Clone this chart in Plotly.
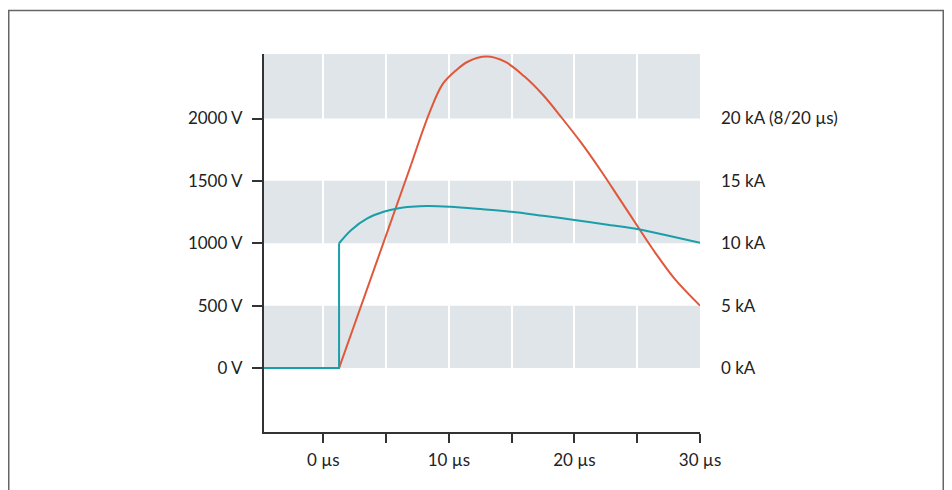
import plotly.graph_objects as go

# ---- data ----
x_ticks = [0, 5, 10, 15, 20, 25, 30]
x_labels = ["0 µs", "", "10 µs", "", "20 µs", "", "30 µs"]
v_ticks = [0, 500, 1000, 1500, 2000]
v_labels = ["0 V", "500 V", "1000 V", "1500 V", "2000 V"]
i_ticks = [0, 5, 10, 15, 20]
i_labels = ["0 kA", "5 kA", "10 kA", "15 kA", "20 kA (8/20 µs)"]

# voltage (V) vs time (µs)
volt_t = [-4.73, 1.25, 7.0, 8.5, 9.5, 10.5, 11.5, 13.0, 14.5, 16.0, 17.5, 19.0,
          20.5, 22.0, 23.5, 25.0, 26.5, 28.0, 30.0]
volt_v = [0, 0, 1633, 2060, 2275, 2380, 2455, 2496, 2453, 2338, 2188, 2004,
          1810, 1597, 1370, 1140, 915, 712, 500]

# current (kA) vs time (µs)
curr_t = [-4.73, 1.25, 1.25, 2.2, 3.5, 4.8, 5.9, 7.0, 8.3, 10.1, 12.7, 15.0,
          17.5, 20.0, 22.5, 25.2, 27.5, 30]
curr_i = [0, 0, 10.0, 11.05, 11.99, 12.52, 12.79, 12.92, 12.98, 12.92, 12.72, 12.52,
          12.2, 11.87, 11.5, 11.11, 10.6, 10.03]

band_lo = [0, 1000, 2000]
band_hi = [500, 1500, 2517]

X_RANGE = [-4.73, 30]
V_RANGE = [-513, 2517]
I_RANGE = [V_RANGE[0] / 100, V_RANGE[1] / 100]

ORANGE = "#E0583B"
TEAL = "#1A9EAA"
BAND = "#DFE5E8"
AXIS = "#333333"
FONT = dict(family="Lato, 'Open Sans', sans-serif", size=17, color="#222222")

# page body has an 8px margin: figure origin sits at (8, 8)
W, H = 944, 482
PL, PR, PT, PB = 256, 692, 46, 424  # plot box in figure pixels

fig = go.Figure()

# orange: straight ramp then smooth curve
fig.add_trace(go.Scatter(x=volt_t[:3], y=volt_v[:3], mode="lines",
                         line=dict(color=ORANGE, width=2), hoverinfo="skip"))
fig.add_trace(go.Scatter(x=volt_t[2:], y=volt_v[2:], mode="lines",
                         line=dict(color=ORANGE, width=2, shape="spline", smoothing=1),
                         hoverinfo="skip"))

# teal: flat, vertical jump, smooth curve
fig.add_trace(go.Scatter(x=curr_t[:3], y=curr_i[:3], mode="lines", yaxis="y2",
                         line=dict(color=TEAL, width=2), hoverinfo="skip"))
fig.add_trace(go.Scatter(x=curr_t[2:], y=curr_i[2:], mode="lines", yaxis="y2",
                         line=dict(color=TEAL, width=2, shape="spline", smoothing=0.9),
                         hoverinfo="skip"))

shapes = []
for lo, hi in zip(band_lo, band_hi):
    shapes.append(dict(type="rect", xref="x", yref="y", x0=X_RANGE[0], x1=X_RANGE[1],
                       y0=lo, y1=hi, fillcolor=BAND, line=dict(width=0), layer="below"))
# outer frame (page px -> figure px -> paper)
pw, ph = PR - PL, PB - PT
shapes.append(dict(type="rect", xref="paper", yref="paper",
                   x0=((8 - 8) + 0.75 - PL) / pw, x1=((944 - 8) - 0.75 - PL) / pw,
                   y0=(PB - (530 - 8)) / ph, y1=(PB - (10.5 - 8)) / ph,
                   line=dict(color="#666666", width=1.5), fillcolor="rgba(0,0,0,0)"))

fig.update_layout(
    width=W, height=H,
    margin=dict(l=PL, r=W - PR, t=PT, b=H - PB, pad=0),
    paper_bgcolor="white", plot_bgcolor="white",
    showlegend=False,
    font=FONT,
    shapes=shapes,
    xaxis=dict(range=X_RANGE, tickvals=x_ticks, ticktext=x_labels,
               showgrid=True, gridcolor="white", gridwidth=2,
               showline=True, linecolor=AXIS, linewidth=2,
               ticks="outside", ticklen=9, tickwidth=2, tickcolor=AXIS,
               ticklabelstandoff=3, zeroline=False, fixedrange=True),
    yaxis=dict(range=V_RANGE, tickvals=v_ticks, ticktext=v_labels,
               showgrid=False, zeroline=False,
               showline=True, linecolor=AXIS, linewidth=2,
               ticks="outside", ticklen=10, tickwidth=2, tickcolor=AXIS,
               ticklabelstandoff=6, fixedrange=True),
    yaxis2=dict(range=I_RANGE, tickvals=i_ticks, ticktext=i_labels,
                overlaying="y", side="right", showgrid=False, zeroline=False,
                showline=False, ticks="", ticklabelstandoff=20, fixedrange=True),
)

fig.write_html("out.html")
